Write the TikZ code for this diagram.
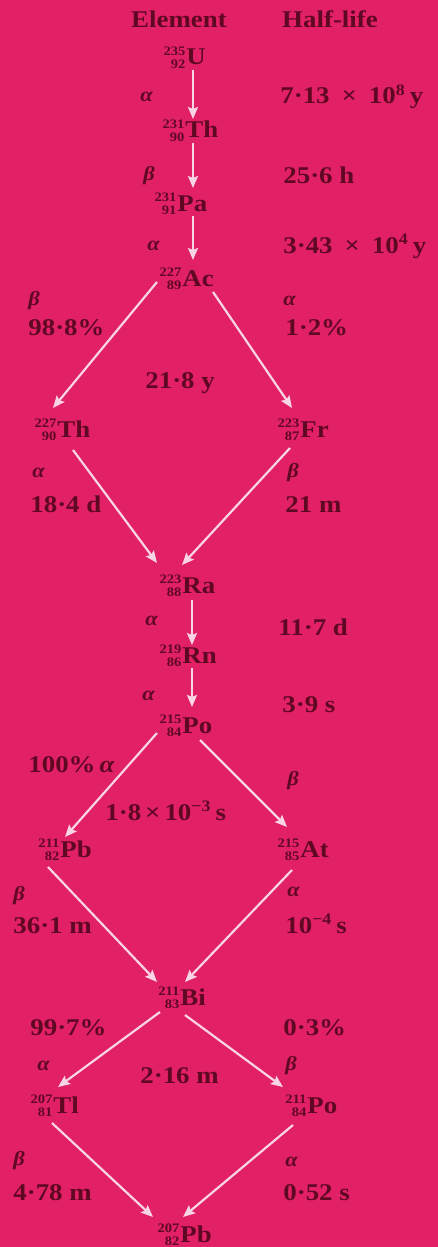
\documentclass[tikz,border=0pt]{standalone}
\usepackage{fontspec}
\setmainfont{Liberation Serif}[FakeStretch=1.12]
\usetikzlibrary{arrows.meta}
\definecolor{bg}{RGB}{226,32,102}
\definecolor{ink}{RGB}{95,8,35}
\definecolor{arrc}{RGB}{248,212,228}
\newcommand\nuc[3]{\makebox[12.5pt][r]{\raisebox{-1.6pt}{\fontsize{6.5}{6}\selectfont\begin{tabular}[b]{@{}r@{}}#1\\#2\end{tabular}}}\kern0.5pt#3}
\tikzset{
  txt/.style={anchor=base west, inner sep=0pt, text=ink, font=\fontsize{12}{14}\selectfont\bfseries},
  gr/.style={anchor=base west, inner sep=0pt, text=ink, font=\fontsize{10}{12}\selectfont\bfseries\itshape},
  nucl/.style={txt},
  arr/.style={draw=arrc, line width=1.1pt, -{Stealth[length=6pt,width=5pt,inset=1pt]}}
}
\begin{document}
\begin{tikzpicture}[x=0.5pt,y=-0.5pt]
\fill[bg] (0,0) rectangle (438,1247);
\useasboundingbox (0,0) rectangle (438,1247);
% headings
\node[txt,anchor=base] (hel) at (179,28) {Element};
\node[txt,anchor=base] (hhl) at (330,28) {Half-life};
% nuclides
\node[nucl] (u)   at (160,65)   {\nuc{235}{92}{U}};
\node[nucl] (th1) at (159,138)  {\nuc{231}{90}{Th}};
\node[nucl] (pa)  at (151,211)  {\nuc{231}{91}{Pa}};
\node[nucl] (ac)  at (156,286)  {\nuc{227}{89}{Ac}};
\node[nucl] (th2) at (31,437)   {\nuc{227}{90}{Th}};
\node[nucl] (fr)  at (274,437)  {\nuc{223}{87}{Fr}};
\node[nucl] (ra)  at (156,593)  {\nuc{223}{88}{Ra}};
\node[nucl] (rn)  at (156,663)  {\nuc{219}{86}{Rn}};
\node[nucl] (po1) at (156,733)  {\nuc{215}{84}{Po}};
\node[nucl] (pb1) at (34,857)   {\nuc{211}{82}{Pb}};
\node[nucl] (at)  at (274,857)  {\nuc{215}{85}{At}};
\node[nucl] (bi)  at (154,1005) {\nuc{211}{83}{Bi}};
\node[nucl] (tl)  at (27,1113)  {\nuc{207}{81}{Tl}};
\node[nucl] (po2) at (281,1113) {\nuc{211}{84}{Po}};
\node[nucl] (pb2) at (154,1242) {\nuc{207}{82}{Pb}};
% arrows
\draw[arr] ([shift={(33,5)}]u.base west) -- ([shift={(34,-19)}]th1.base west);
\draw[arr] ([shift={(34,5)}]th1.base west) -- ([shift={(42,-23)}]pa.base west);
\draw[arr] ([shift={(42,5)}]pa.base west) -- ([shift={(37,-26)}]ac.base west);
\draw[arr] ([shift={(1,-4)}]ac.base west) -- ([shift={(22,-29)}]th2.base west);
\draw[arr] ([shift={(57,6)}]ac.base west) -- ([shift={(18,-29)}]fr.base west);
\draw[arr] ([shift={(42,13)}]th2.base west) -- ([shift={(1,-30)}]ra.base west);
\draw[arr] ([shift={(16,11)}]fr.base west) -- ([shift={(26,-28)}]ra.base west);
\draw[arr] ([shift={(36,7)}]ra.base west) -- ([shift={(36,-18)}]rn.base west);
\draw[arr] ([shift={(36,5)}]rn.base west) -- ([shift={(36,-26)}]po1.base west);
\draw[arr] ([shift={(1,0)}]po1.base west) -- ([shift={(31,-20)}]pb1.base west);
\draw[arr] ([shift={(44,7)}]po1.base west) -- ([shift={(13,-30)}]at.base west);
\draw[arr] ([shift={(14,10)}]pb1.base west) -- ([shift={(3,-23)}]bi.base west);
\draw[arr] ([shift={(18,13)}]at.base west) -- ([shift={(31,-23)}]bi.base west);
\draw[arr] ([shift={(6,7)}]bi.base west) -- ([shift={(31,-26)}]tl.base west);
\draw[arr] ([shift={(31,10)}]bi.base west) -- ([shift={(2,-26)}]po2.base west);
\draw[arr] ([shift={(25,10)}]tl.base west) -- ([shift={(-1,-25)}]pb2.base west);
\draw[arr] ([shift={(12,12)}]po2.base west) -- ([shift={(29,-25)}]pb2.base west);
% decay modes and half-lives
\node[gr] (m1) at (140,102) {α};
\node[txt] (h1) at (280,104) {7·13\enspace×\enspace10\textsuperscript{8}\,y};
\node[gr] (m2) at (143,180) {β};
\node[txt] (h2) at (283,184) {25·6 h};
\node[gr] (m3) at (147,250) {α};
\node[txt] (h3) at (283,253) {3·43\enspace×\enspace10\textsuperscript{4}\,y};
\node[gr] (m4) at (28,305) {β};
\node[txt] (p4) at (28,335) {98·8\%};
\node[gr] (m5) at (283,305) {α};
\node[txt] (p5) at (285,335) {1·2\%};
\node[txt] (h4) at (145,388) {21·8 y};
\node[gr] (m6) at (32,477) {α};
\node[txt] (h5) at (30,512) {18·4 d};
\node[gr] (m7) at (287,477) {β};
\node[txt] (h6) at (285,512) {21 m};
\node[gr] (m8) at (145,625) {α};
\node[txt] (h7) at (278,635) {11·7 d};
\node[gr] (m9) at (142,700) {α};
\node[txt] (h8) at (282,712) {3·9 s};
\node[txt] (p6) at (28,772) {100\%\,{\itshape α}};
\node[gr] (m10) at (287,785) {β};
\node[txt] (h9) at (105,820) {1·8\,×\,10\textsuperscript{−3}\,s};
\node[gr] (m11) at (13,900) {β};
\node[txt] (h10) at (13,933) {36·1 m};
\node[gr] (m12) at (287,896) {α};
\node[txt] (h11) at (285,933) {10\textsuperscript{−4}\,s};
\node[txt] (p7) at (30,1035) {99·7\%};
\node[txt] (p8) at (283,1035) {0·3\%};
\node[gr] (m13) at (37,1070) {α};
\node[gr] (m14) at (285,1070) {β};
\node[txt] (h12) at (140,1083) {2·16 m};
\node[gr] (m15) at (13,1165) {β};
\node[txt] (h13) at (13,1200) {4·78 m};
\node[gr] (m16) at (285,1166) {α};
\node[txt] (h14) at (283,1200) {0·52 s};
\end{tikzpicture}
\end{document}
